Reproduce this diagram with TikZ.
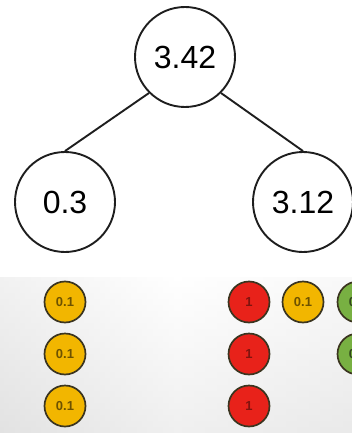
\documentclass[tikz,border=0pt]{standalone}
\usepackage{fontspec}
\setmainfont{Liberation Sans}
\definecolor{ballyellow}{HTML}{F2B600}
\definecolor{ballred}{HTML}{E8221A}
\definecolor{ballgreen}{HTML}{78B042}
\definecolor{ballline}{HTML}{3B3520}
\definecolor{inkline}{HTML}{1E1E1E}
\tikzset{
  value/.style={circle, draw=inkline, line width=1.9pt, fill=white, minimum size=100pt, inner sep=0pt, font=\fontsize{32}{32}\selectfont},
  edge/.style={draw=inkline, line width=1.9pt},
  ball/.style={circle, draw=ballline, line width=1.7pt, minimum size=41pt, inner sep=0pt, font=\fontsize{13}{13}\selectfont\bfseries},
  yball/.style={ball, fill=ballyellow, text=ballyellow!45!black},
  rball/.style={ball, fill=ballred, text=ballred!55!black},
  gball/.style={ball, fill=ballgreen, text=ballgreen!40!black}
}
\begin{document}
\begin{tikzpicture}[x=1pt,y=-1pt]
        \useasboundingbox (0,0) rectangle (352,433);
        \clip (0,0) rectangle (352,433);
        % shaded floor
        \shade[left color=black!13, right color=white] (0,277) rectangle (176,433);
        \shade[left color=white, right color=black!6] (176,277) rectangle (352,433);
        \shade[top color=white, bottom color=black!10, opacity=0.6] (0,277) rectangle (352,433);
        % tree
        \node[value] (root) at (185,57) {3.42};
        \node[value] (left) at (65,202) {0.3};
        \node[value] (right) at (303,202) {3.12};
        \draw[edge] (root.-135) -- (left.north);
        \draw[edge] (root.-45) -- (right.north);
        % balls
        \foreach \row/\y in {1/302,2/354,3/406} {
          \node[yball] (l\row) at (65,\y) {0.1};
          \node[rball] (r\row) at (249,\y) {1};
        }
        \node[yball] (ry) at (303,302) {0.1};
        \node[gball] (g1) at (358,302) {0.1};
        \node[gball] (g2) at (358,354) {0.1};
\end{tikzpicture}
\end{document}
